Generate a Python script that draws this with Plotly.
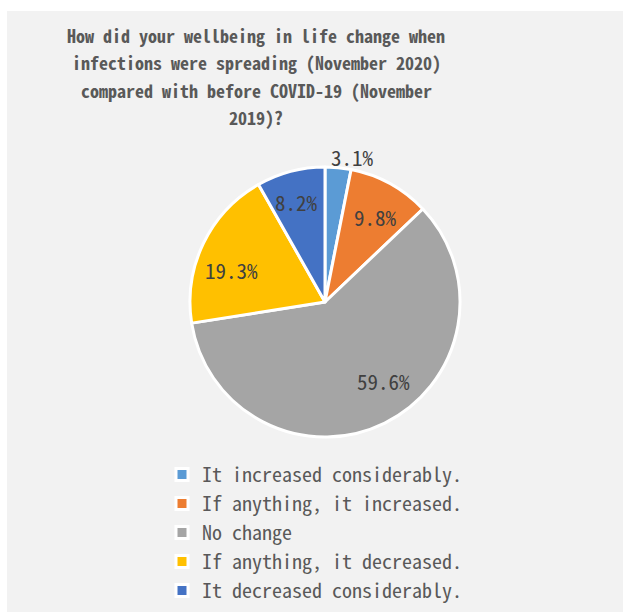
import math
import plotly.graph_objects as go

W, H = 623, 612

categories = [
    "It increased considerably.",
    "If anything, it increased.",
    "No change",
    "If anything, it decreased.",
    "It decreased considerably.",
]
values = [3.1, 9.8, 59.6, 19.3, 8.2]
colors = ["#5B9BD5", "#ED7D31", "#A5A5A5", "#FFC000", "#4472C4"]
title_lines = [
    "How did your wellbeing in life change when",
    "infections were spreading (November 2020)",
    "compared with before COVID-19 (November",
    "2019)?",
]

# value-label placement: distance from centre (fraction of radius) and
# angular nudge (degrees) from the middle of each slice
label_radius = [1.09, 0.73, 0.73, 0.73, 0.77]
label_shift = [5, 2, -10, -7, -1]

FONT = "Noto Sans Mono CJK JP, Liberation Mono, monospace"

# pie centre / radius in pixels
cx, cy, r = 325, 302, 135

fig = go.Figure(
    go.Pie(
        labels=categories,
        values=values,
        sort=False,
        direction="clockwise",
        rotation=0,
        marker=dict(colors=colors, line=dict(color="white", width=3)),
        textinfo="none",
        domain=dict(
            x=[(cx - r) / W, (cx + r) / W],
            y=[1 - (cy + r) / H, 1 - (cy - r) / H],
        ),
        hoverinfo="label+percent",
    )
)

annotations = []
for i, line in enumerate(title_lines):
    annotations.append(
        dict(
            text=f"<b>{line}</b>",
            x=256 / W,
            y=1 - (35 + i * 27.5) / H,
            xref="paper",
            yref="paper",
            xanchor="center",
            yanchor="middle",
            showarrow=False,
            font=dict(family=FONT, size=18, color="#595959"),
        )
    )

# value labels around the middle angle of each slice (clockwise from 12 o'clock)
total = sum(values)
cum = 0.0
for v, f, d in zip(values, label_radius, label_shift):
    mid = (cum + v / 2) / total * 2 * math.pi + math.radians(d)
    cum += v
    px = cx + f * r * math.sin(mid)
    py = cy - f * r * math.cos(mid)
    annotations.append(
        dict(
            text=f"{v:.1f}%",
            x=px / W,
            y=1 - py / H,
            xref="paper",
            yref="paper",
            xanchor="center",
            yanchor="middle",
            showarrow=False,
            font=dict(family=FONT, size=21, color="#404040"),
        )
    )

fig.update_layout(
    width=W,
    height=H,
    margin=dict(l=0, r=0, t=0, b=0),
    paper_bgcolor="white",
    plot_bgcolor="#F2F2F2",
    annotations=annotations,
    shapes=[
        dict(
            type="rect",
            xref="paper",
            yref="paper",
            x0=7 / W,
            x1=1,
            y0=0,
            y1=1 - 11 / H,
            fillcolor="#F2F2F2",
            line=dict(width=0),
            layer="below",
        )
    ],
    showlegend=True,
    legend=dict(
        x=162 / W,
        y=1 - 455 / H,
        xanchor="left",
        yanchor="top",
        bgcolor="rgba(0,0,0,0)",
        font=dict(family=FONT, size=20, color="#595959"),
        orientation="v",
    ),
)

fig.write_html("out.html")
